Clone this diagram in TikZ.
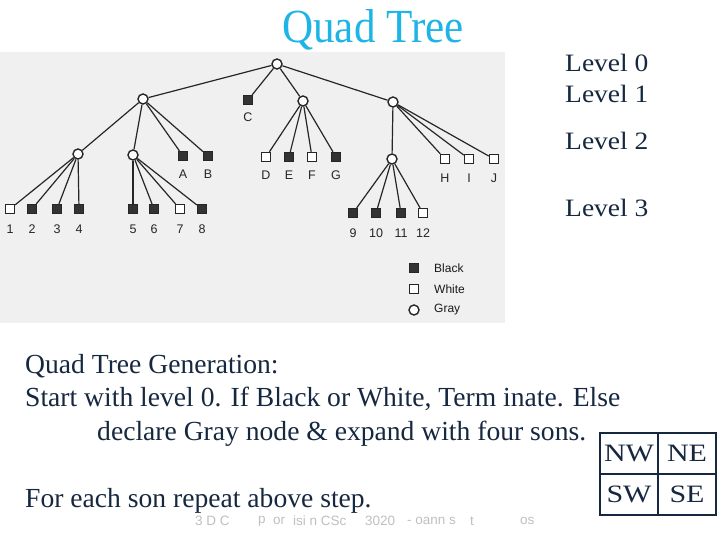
\documentclass[tikz,border=0pt]{standalone}
\usepackage{fontspec}
\setmainfont{Liberation Serif}
\newfontfamily\lsans{Liberation Sans}
\definecolor{navy}{RGB}{22,40,64}
\definecolor{titlecyan}{RGB}{30,180,230}
\definecolor{scanbg}{RGB}{240,240,240}
\begin{document}
\begin{tikzpicture}[x=1pt,y=-1pt,
  blk/.style={draw=black!85,fill=black!80,minimum size=9.5pt,inner sep=0,line width=0.8pt},
  wht/.style={draw=black!85,fill=white,minimum size=9pt,inner sep=0,line width=1.4pt},
  gry/.style={circle,draw=black!85,fill=white,minimum size=10pt,inner sep=0,line width=1.4pt},
  lbl/.style={font=\lsans\fontsize{12.5}{13}\selectfont,text=black!85,inner sep=0},
  leg/.style={font=\lsans\fontsize{12}{13}\selectfont,text=black!90,inner sep=0,anchor=west},
  edge/.style={line width=1.2pt,draw=black!85},
  lev/.style={font=\fontsize{25}{28}\selectfont,text=navy,anchor=base west,inner sep=0},
  body/.style={font=\fontsize{27.6}{30}\selectfont,text=navy,anchor=base west,inner sep=0},
  cell/.style={draw=navy,line width=1.8pt,minimum width=58pt,minimum height=41pt,inner sep=0,
    font=\fontsize{25}{28}\selectfont,text=navy},
  foot/.style={font=\lsans\fontsize{13.5}{14}\selectfont,text=black!25,anchor=west,inner sep=0}]
\path[use as bounding box] (0,0) rectangle (720,540);
\fill[scanbg] (0,52) rectangle (505,323);

% title
\node[font=\fontsize{44}{48}\selectfont,text=titlecyan,anchor=base,inner sep=0] (title) at (373,43) {\scalebox{0.98}[1.08]{Quad Tree}};

% tree nodes
\node[gry] (r) at (277,64) {};
\node[gry] (g1) at (143,99) {};
\node[blk] (C) at (248,100) {};
\node[gry] (g2) at (303,101) {};
\node[gry] (g3) at (393,102) {};
\node[gry] (g11) at (78,154) {};
\node[gry] (g12) at (133,155) {};
\node[blk] (A) at (183,156) {};
\node[blk] (B) at (208,156) {};
\node[wht] (D) at (266,157) {};
\node[blk] (E) at (289,157) {};
\node[wht] (F) at (312,157) {};
\node[blk] (G) at (336,157) {};
\node[gry] (g31) at (392,159) {};
\node[wht] (H) at (445,159) {};
\node[wht] (I) at (469,159) {};
\node[wht] (J) at (494,159) {};
\node[wht] (n1) at (10,209) {};
\node[blk] (n2) at (32,209) {};
\node[blk] (n3) at (57,209) {};
\node[blk] (n4) at (79,209) {};
\node[blk] (n5) at (133,209) {};
\node[blk] (n6) at (154,209) {};
\node[wht] (n7) at (180,209) {};
\node[blk] (n8) at (202,209) {};
\node[blk] (n9) at (353,213) {};
\node[blk] (n10) at (376,213) {};
\node[blk] (n11) at (401,213) {};
\node[wht] (n12) at (423,213) {};

% edges
\foreach \a/\b in {r/g1,r/C,r/g2,r/g3,
  g1/g11,g1/g12,g1/A,g1/B,
  g11/n1,g11/n2,g11/n3,g11/n4,
  g12/n5,g12/n6,g12/n7,g12/n8,
  g2/D,g2/E,g2/F,g2/G,
  g3/g31,g3/H,g3/I,g3/J,
  g31/n9,g31/n10,g31/n11,g31/n12}
  \draw[edge] (\a) -- (\b);

% labels
\node[lbl] (lC) at (248,117) {C};
\node[lbl] (lA) at (183,174) {A};
\node[lbl] (lB) at (208,174) {B};
\node[lbl] (lD) at (266,175) {D};
\node[lbl] (lE) at (289,175) {E};
\node[lbl] (lF) at (312,175) {F};
\node[lbl] (lG) at (336,175) {G};
\node[lbl] (lH) at (445,178) {H};
\node[lbl] (lI) at (469,178) {I};
\node[lbl] (lJ) at (494,178) {J};
\node[lbl] (l1) at (10,229) {1};
\node[lbl] (l2) at (32,229) {2};
\node[lbl] (l3) at (57,229) {3};
\node[lbl] (l4) at (79,229) {4};
\node[lbl] (l5) at (133,229) {5};
\node[lbl] (l6) at (154,229) {6};
\node[lbl] (l7) at (180,229) {7};
\node[lbl] (l8) at (202,229) {8};
\node[lbl] (l9) at (353,233) {9};
\node[lbl] (l10) at (376,233) {10};
\node[lbl] (l11) at (401,233) {11};
\node[lbl] (l12) at (423,233) {12};

% legend
\node[blk] (kb) at (414,268) {};
\node[wht] (kw) at (414,289) {};
\node[gry] (kg) at (414,310) {};
\node[leg] (tb) at (434,268) {Black};
\node[leg] (tw) at (434,289) {White};
\node[leg] (tg) at (434,310) {Gray};

% levels
\node[lev] (L0) at (565,71.7) {\scalebox{1.1}[1]{Level 0}};
\node[lev] (L1) at (565,102.3) {\scalebox{1.1}[1]{Level 1}};
\node[lev] (L2) at (565,150) {\scalebox{1.1}[1]{Level 2}};
\node[lev] (L3) at (565,216.7) {\scalebox{1.1}[1]{Level 3}};

% body text
\node[body] (t1) at (25,373) {Quad Tree Generation:};
\node[body] (t2) at (25,406) {Start with level 0. If Black or White, Term inate. Else};
\node[body] (t3) at (97,440) {declare Gray node \& expand with four sons.};
\node[body] (t4) at (25,507) {For each son repeat above step.};

% quadrant box
\node[cell] (nw) at (629,453.5) {\scalebox{1.2}[1]{NW}};
\node[cell] (ne) at (687,453.5) {\scalebox{1.2}[1]{NE}};
\node[cell] (sw) at (629,494.5) {\scalebox{1.2}[1]{SW}};
\node[cell] (se) at (687,494.5) {\scalebox{1.2}[1]{SE}};

% faint footer
\node[foot] (f1) at (195,521) {3 D C};
\node[foot] (f2) at (258,521) {p};
\node[foot] (f3) at (273,521) {or};
\node[foot] (f4) at (293,521) {isi n CSc};
\node[foot] (f5) at (365,521) {3020};
\node[foot] (f6) at (407,521) {- oann s};
\node[foot] (f7) at (470,521) {t};
\node[foot] (f8) at (520,521) {os};
\end{tikzpicture}
\end{document}
